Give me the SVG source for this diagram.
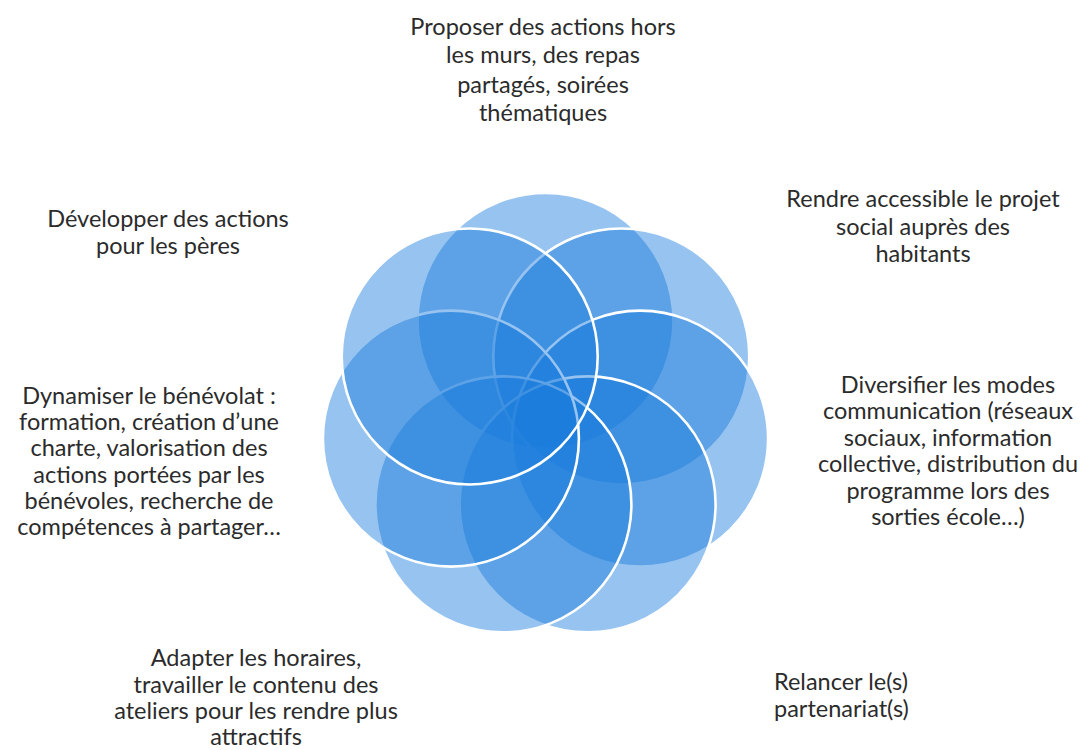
<svg xmlns="http://www.w3.org/2000/svg" width="1086" height="750" viewBox="0 0 1086 750">
  <style>
    .petal { fill: rgba(26,125,220,0.46); stroke: #ffffff; stroke-width: 2.6; }
    .lbl { font-family: Lato, "Open Sans", "Liberation Sans", sans-serif; font-size: 23.5px; fill: #2b2b2b; }
    .mid { text-anchor: middle; }
  </style>
  <rect width="1086" height="750" fill="#ffffff"/>

  <!-- seven overlapping circles, drawn clockwise from the top -->
  <g id="flower">
    <circle id="c0" class="petal" cx="545.5" cy="321" r="128"/>
    <circle id="c1" class="petal" cx="621.3" cy="356.5" r="128"/>
    <circle id="c2" class="petal" cx="640.1" cy="438.6" r="128"/>
    <circle id="c3" class="petal" cx="587.6" cy="504.4" r="128"/>
    <circle id="c4" class="petal" cx="503.4" cy="504.4" r="128"/>
    <circle id="c5" class="petal" cx="450.9" cy="438.6" r="128"/>
    <circle id="c6" class="petal" cx="469.7" cy="356.5" r="128"/>
  </g>

  <g id="connectors"></g>

  <g id="label-top" class="lbl mid">
    <text x="543" y="34.5">Proposer des actions hors</text>
    <text x="543" y="63.3">les murs, des repas</text>
    <text x="543" y="92.5">partagés, soirées</text>
    <text x="543" y="121">thématiques</text>
  </g>

  <g id="label-top-left" class="lbl mid">
    <text x="168" y="227">Développer des actions</text>
    <text x="168" y="254">pour les pères</text>
  </g>

  <g id="label-top-right" class="lbl mid">
    <text x="923" y="207">Rendre accessible le projet</text>
    <text x="923" y="235">social auprès des</text>
    <text x="923" y="262">habitants</text>
  </g>

  <g id="label-left" class="lbl mid">
    <text x="149" y="404">Dynamiser le bénévolat :</text>
    <text x="149" y="430.2">formation, création d’une</text>
    <text x="149" y="456.4">charte, valorisation des</text>
    <text x="149" y="482.6">actions portées par les</text>
    <text x="149" y="508.8">bénévoles, recherche de</text>
    <text x="149" y="535">compétences à partager…</text>
  </g>

  <g id="label-right" class="lbl mid">
    <text x="948" y="393">Diversifier les modes</text>
    <text x="948" y="419.4">communication (réseaux</text>
    <text x="948" y="445.8">sociaux, information</text>
    <text x="948" y="472.2">collective, distribution du</text>
    <text x="948" y="498.6">programme lors des</text>
    <text x="948" y="525">sorties école…)</text>
  </g>

  <g id="label-bottom-left" class="lbl mid">
    <text x="256" y="666">Adapter les horaires,</text>
    <text x="256" y="692.5">travailler le contenu des</text>
    <text x="256" y="719">ateliers pour les rendre plus</text>
    <text x="256" y="745">attractifs</text>
  </g>

  <g id="label-bottom-right" class="lbl">
    <text x="774" y="690">Relancer le(s)</text>
    <text x="774" y="717">partenariat(s)</text>
  </g>
</svg>
